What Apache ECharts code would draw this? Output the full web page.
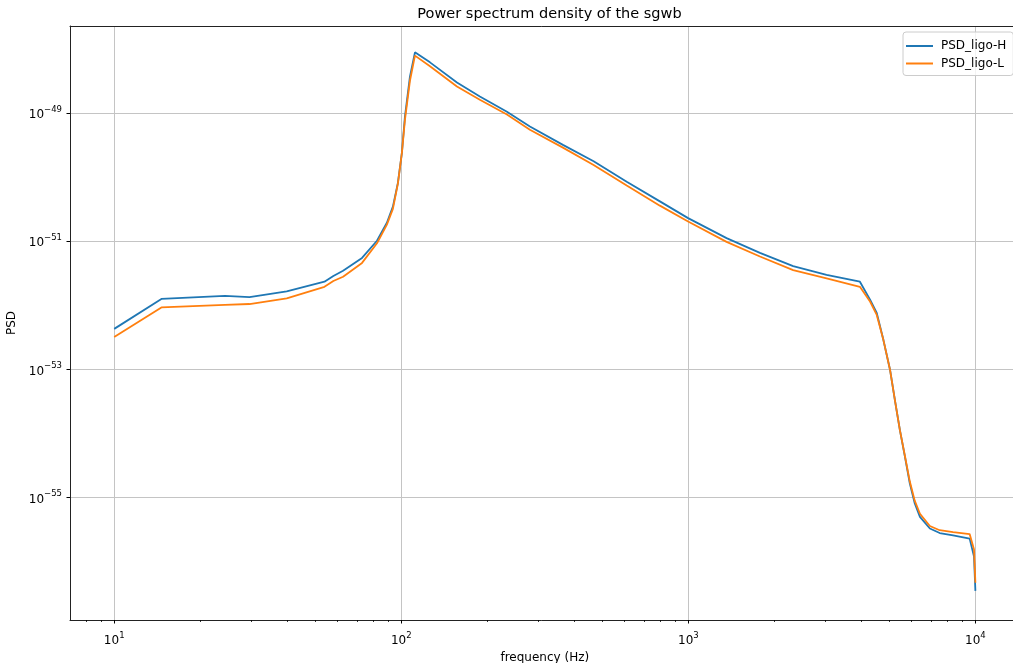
<!DOCTYPE html>
<html>
<head>
<meta charset="utf-8">
<title>Power spectrum density of the sgwb</title>
<script src="https://cdn.jsdelivr.net/npm/echarts@6/dist/echarts.min.js"></script>
<style>
  html, body { margin: 0; padding: 0; background: #fff; }
  #chart { width: 1013px; height: 663px; }
</style>
</head>
<body>
<div id="chart"></div>
<script>
// frequency in Hz, PSD values
const freqH = [10, 14.6, 24.3, 29.6, 39.9, 54, 58, 62.7, 73, 82.3, 89.1, 93.5, 97.3, 100.5, 103, 107.2, 111.6,
  125.9, 156.3, 187.8, 233.4, 280.6, 365.7, 467.7, 610, 796, 998, 1359, 1776, 2318, 3031, 3960,
  4296, 4533, 4780, 5040, 5245, 5460, 5680, 5910, 6150, 6410, 6940, 7510, 8360, 9550, 9700, 9890, 10000]
const psdH = [4.3e-53, 1.26e-52, 1.41e-52, 1.35e-52, 1.66e-52, 2.34e-52, 2.88e-52, 3.47e-52, 5.5e-52, 1.02e-51, 1.95e-51, 3.47e-51, 8.1e-51, 2.4e-50, 8.9e-50, 3.7e-49, 8.9e-49,
  6.2e-49, 3.0e-49, 1.82e-49, 1.05e-49, 6.2e-50, 3.2e-50, 1.78e-50, 8.5e-51, 4.2e-51, 2.3e-51, 1.12e-51, 6.6e-52, 4.1e-52, 3.0e-52, 2.34e-52,
  1.23e-52, 7.6e-53, 2.9e-53, 1.0e-53, 3.3e-54, 1.12e-54, 4.4e-55, 1.66e-55, 8.1e-56, 5.0e-56, 3.3e-56, 2.8e-56, 2.57e-56, 2.29e-56, 2.24e-56, 1.2e-56, 3.5e-57]

const freqL = freqH
const psdL = [3.2e-53, 9.3e-53, 1.02e-52, 1.05e-52, 1.29e-52, 1.95e-52, 2.4e-52, 2.8e-52, 4.6e-52, 9.3e-52, 1.82e-51, 3.2e-51, 7.9e-51, 2.4e-50, 7.9e-50, 3.2e-49, 7.9e-49,
  5.4e-49, 2.6e-49, 1.62e-49, 9.5e-50, 5.5e-50, 2.9e-50, 1.55e-50, 7.4e-51, 3.6e-51, 2.04e-51, 9.8e-52, 5.8e-52, 3.55e-52, 2.63e-52, 1.95e-52,
  1.15e-52, 7.1e-53, 2.9e-53, 1.0e-53, 3.3e-54, 1.12e-54, 4.5e-55, 1.78e-55, 8.9e-56, 5.6e-56, 3.6e-56, 3.1e-56, 2.9e-56, 2.7e-56, 2.8e-56, 1.55e-56, 4.7e-57]

const seriesNames = ['PSD_ligo-H', 'PSD_ligo-L']
const xTickFreqs = [10, 100, 1000, 10000]
const yTickPsd = [1e-49, 1e-51, 1e-53, 1e-55]

const FONT = 'DejaVu Sans'
const lg = v => Math.log10(v)

// minor ticks 2..9 per decade (matplotlib style)
let minorTicks = []
for (let d = 1; d <= 1000; d *= 10) {
  for (let m = 2; m <= 9; m++) minorTicks.push(lg(m * d))
}

function powLabel(value) {
  const e = Math.round(value)
  const s = e < 0 ? '\u2212' + (-e) : String(e)
  return '{b|10}{s|' + s + '}'
}

const richLabel = {
  b: { fontSize: 12, fontFamily: FONT, color: '#000', lineHeight: 16, verticalAlign: 'bottom' },
  s: { fontSize: 8.5, fontFamily: FONT, color: '#000', lineHeight: 10, verticalAlign: 'top' }
}

const X_MIN = 0.846
const X_MAX = 4.154
const spine = { show: true, lineStyle: { color: '#222', width: 1 } }

const chart = echarts.init(document.getElementById('chart'))
const option = {
  animation: false,
  backgroundColor: '#fff',
  title: {
    text: 'Power spectrum density of the sgwb',
    left: 544.5,
    top: 2,
    textAlign: 'center',
    textStyle: { fontFamily: FONT, fontSize: 14.5, fontWeight: 'normal', color: '#000' }
  },
  legend: {
    data: seriesNames,
    orient: 'vertical',
    left: 903,
    top: 32,
    icon: 'rect',
    itemWidth: 27,
    itemHeight: 2,
    itemGap: 5.5,
    padding: [8, 7, 6, 3],
    borderColor: '#cccccc',
    borderWidth: 1,
    borderRadius: 3,
    backgroundColor: 'rgba(255,255,255,0.8)',
    textStyle: { fontFamily: FONT, fontSize: 12, color: '#000', padding: [0, 0, 0, 3] }
  },
  grid: {
    left: 70,
    top: 26,
    width: 949.6,
    height: 594,
    containLabel: false,
    outerBoundsMode: 'none'
  },
  xAxis: [{
    type: 'value',
    position: 'bottom',
    min: X_MIN,
    max: X_MAX,
    name: 'frequency (Hz)',
    nameLocation: 'middle',
    nameGap: 28,
    nameTextStyle: { fontFamily: FONT, fontSize: 12, color: '#000' },
    axisLine: spine,
    axisTick: { show: true, length: 3.5, customValues: xTickFreqs.map(lg), lineStyle: { color: '#000', width: 1 } },
    axisLabel: { customValues: xTickFreqs.map(lg), margin: 11, formatter: powLabel, rich: richLabel },
    splitLine: { show: true, lineStyle: { color: '#c4c4c4', width: 1 } }
  }, {
    // minor ticks only
    type: 'value',
    position: 'bottom',
    min: X_MIN,
    max: X_MAX,
    axisLine: { show: false },
    axisTick: { show: true, length: 2, customValues: minorTicks, lineStyle: { color: '#000', width: 0.8 } },
    axisLabel: { show: false },
    splitLine: { show: false }
  }, {
    // top spine
    type: 'value',
    position: 'top',
    min: X_MIN,
    max: X_MAX,
    axisLine: spine,
    axisTick: { show: false },
    axisLabel: { show: false },
    splitLine: { show: false }
  }],
  yAxis: {
    type: 'value',
    min: -56.91,
    max: -47.64,
    name: 'PSD',
    nameLocation: 'middle',
    nameGap: 50,
    nameRotate: 90,
    nameTextStyle: { fontFamily: FONT, fontSize: 12, color: '#000' },
    axisLine: spine,
    axisTick: { show: true, length: 3.5, customValues: yTickPsd.map(lg), lineStyle: { color: '#000', width: 1 } },
    axisLabel: { customValues: yTickPsd.map(lg), margin: 8, formatter: powLabel, rich: richLabel },
    splitLine: { show: true, lineStyle: { color: '#c4c4c4', width: 1 } }
  },
  series: [
    {
      name: seriesNames[0],
      type: 'line',
      showSymbol: false,
      color: '#1f77b4',
      lineStyle: { width: 1.8, color: '#1f77b4' },
      data: freqH.map((f, i) => [lg(f), lg(psdH[i])])
    },
    {
      name: seriesNames[1],
      type: 'line',
      showSymbol: false,
      color: '#ff7f0e',
      lineStyle: { width: 1.8, color: '#ff7f0e' },
      data: freqL.map((f, i) => [lg(f), lg(psdL[i])])
    }
  ]
}
chart.setOption(option)
window.addEventListener('resize', function () {
  chart.resize()
})
</script>
</body>
</html>
